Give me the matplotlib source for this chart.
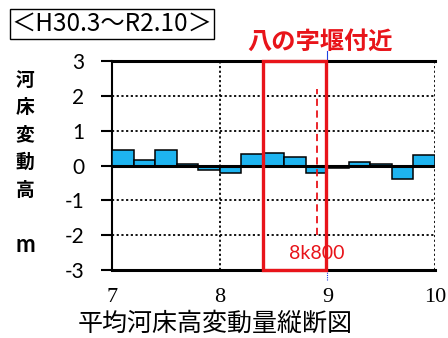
import matplotlib
matplotlib.use("Agg")
import matplotlib.pyplot as plt
from matplotlib.patches import Rectangle

plt.rcParams["font.family"] = ["Noto Sans CJK JP", "DejaVu Sans"]

# bed level change per 200 m section (km, m)
section_start = [7.0, 7.2, 7.4, 7.6, 7.8, 8.0, 8.2, 8.4, 8.6, 8.8, 9.0, 9.2, 9.4, 9.6, 9.8]
bed_change = [0.45, 0.16, 0.45, 0.06, -0.12, -0.22, 0.32, 0.36, 0.24, -0.22, -0.07, 0.11, 0.05, -0.38, 0.31]
section_width = 0.2

x_ticks = [7, 8, 9, 10]
y_ticks = [3, 2, 1, 0, -1, -2, -3]
weir_range = (8.4, 8.99)
weir_point = 8.9
period_label = "＜H30.3～R2.10＞"
weir_label = "八の字堰付近"
point_label = "8k800"
y_label_chars = ["河", "床", "変", "動", "高"]
title = "平均河床高変動量縦断図"

fig = plt.figure(figsize=(4.48, 3.38), dpi=100)
ax = fig.add_axes([0.25, 0.201, 0.721, 0.618])

ax.bar(section_start, bed_change, width=section_width, align="edge",
       color="#1EB4F0", edgecolor="black", linewidth=1.1, zorder=3)
ax.axhline(0, color="black", lw=2.2, zorder=4)

ax.set_xlim(7, 10)
ax.set_ylim(-3, 3)

dot = (0, (1.2, 1.4))
for y in [2, 1, -1, -2]:
    ax.axhline(y, color="black", lw=1.3, ls=dot, zorder=1)
for x in [8, 9, 10]:
    ax.axvline(x, color="black", lw=1.3, ls=dot, zorder=1)

ax.spines["right"].set_visible(False)
ax.spines["top"].set_linewidth(2.2)
ax.spines["bottom"].set_linewidth(2.2)
ax.spines["left"].set_linewidth(1.5)

ax.set_yticks(y_ticks)
ax.set_yticklabels([str(v) for v in y_ticks], family="Lato", fontsize=15)
ax.tick_params(axis="y", length=8, width=1.5, pad=12)
ax.set_xticks(x_ticks)
ax.set_xticklabels([str(v) for v in x_ticks], family="Liberation Serif", fontsize=16)
ax.tick_params(axis="x", length=0, pad=13)

# weir area
ax.add_patch(Rectangle((weir_range[0], -3), weir_range[1] - weir_range[0], 6,
                       fill=False, edgecolor="#E8141A", lw=2.4, zorder=6, clip_on=False))
ax.plot([weir_point, weir_point], [-2.0, 2.2], color="#E8141A", lw=1.3,
        ls=(0, (4, 2.5)), zorder=5)
ax.text(weir_point, -2.52, point_label, color="#E8141A", fontsize=14,
        family="Lato", ha="center", va="center", zorder=7)
ax.plot([9, 9], [3.0, 3.3], color="#2040E0", lw=0.8, clip_on=False)
ax.plot([9, 9], [-3.0, -3.3], color="#2040E0", lw=0.8, ls=(0, (1, 1)), clip_on=False)

fig.text(320 / 448, 1 - 42 / 338, weir_label, color="#E8141A", fontsize=17.5,
         fontweight="bold", ha="center", va="center")
fig.text(112 / 448, 1 - 24 / 338, period_label, fontsize=17.5, ha="center", va="center",
         bbox=dict(boxstyle="square,pad=0.08", facecolor="white", edgecolor="black", lw=1))

for i, ch in enumerate(y_label_chars):
    fig.text(25 / 448, 1 - (80 + i * 27.5) / 338, ch, fontsize=13.5, fontweight="bold",
             ha="center", va="center")
fig.text(25 / 448, 1 - 244 / 338, "m", fontsize=17, family="Lato", fontweight="bold",
         ha="center", va="center")

fig.text(215 / 448, 1 - 324 / 338, title, fontsize=18, ha="center", va="center")

fig.savefig("out.png", dpi=100)
